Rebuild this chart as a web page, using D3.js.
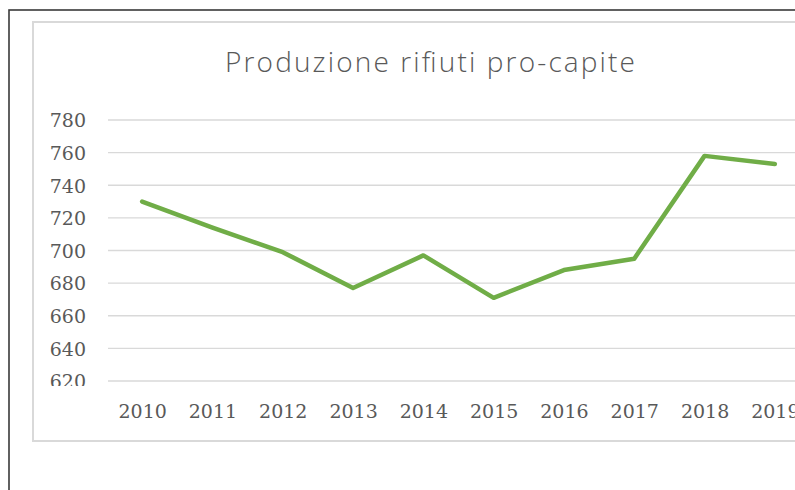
<!DOCTYPE html>
<html>
<head>
<meta charset="utf-8">
<script src="https://cdn.jsdelivr.net/npm/d3@7"></script>
<style>
  html, body { margin: 0; padding: 0; background: #fff; }
  svg { display: block; }
</style>
</head>
<body>
<svg id="chart" width="795" height="490"></svg>
<script>
// Per-capita waste production by year
const years = ["2010", "2011", "2012", "2013", "2014", "2015", "2016", "2017", "2018", "2019"];
const values = [730, 714, 699, 677, 697, 671, 688, 695, 758, 753];
const yTicks = [620, 640, 660, 680, 700, 720, 740, 760, 780];
const title = "Produzione rifiuti pro-capite";

const svg = d3.select("#chart");
const W = 795, H = 490;

// outer dark border (only top and left fall inside the view)
svg.append("rect")
  .attr("x", 9).attr("y", 10)
  .attr("width", W + 20).attr("height", H + 20)
  .attr("fill", "none").attr("stroke", "#3a3a3a").attr("stroke-width", 1.6);

// chart area frame
svg.append("rect")
  .attr("x", 33).attr("y", 22)
  .attr("width", W + 20).attr("height", 419)
  .attr("fill", "#fff").attr("stroke", "#d9d9d9").attr("stroke-width", 2);

const x = d3.scalePoint().domain(years).range([107, 810]).padding(0.5);
const y = d3.scaleLinear().domain([620, 780]).range([381, 120]);

// title
svg.append("text")
  .attr("x", 430).attr("y", 72)
  .attr("text-anchor", "middle")
  .attr("font-family", "'Open Sans', 'Noto Sans', sans-serif")
  .attr("font-weight", 300)
  .attr("font-size", 28)
  .attr("textLength", 410)
  .attr("lengthAdjust", "spacing")
  .attr("fill", "#595959")
  .text(title);

// horizontal gridlines
svg.append("g")
  .selectAll("line")
  .data(yTicks)
  .join("line")
  .attr("x1", 108).attr("x2", 815)
  .attr("y1", d => y(d)).attr("y2", d => y(d))
  .attr("stroke", "#d9d9d9").attr("stroke-width", 1.3);

// y-axis labels; the lowest one is cut by the plot bottom
svg.append("clipPath").attr("id", "ylab-clip")
  .append("rect").attr("x", 0).attr("y", 100).attr("width", 100).attr("height", 286);

const yAxis = d3.axisLeft(y).tickValues(yTicks).tickSize(0).tickPadding(0);
const gyWrap = svg.append("g").attr("clip-path", "url(#ylab-clip)");
const gy = gyWrap.append("g")
  .attr("transform", "translate(86,0)")
  .call(yAxis);
gy.select(".domain").remove();
gy.selectAll("text")
  .attr("font-family", "'DejaVu Serif', serif")
  .attr("font-size", 19)
  .attr("fill", "#595959")
  .attr("dy", "0.36em");

// x-axis labels
const xAxis = d3.axisBottom(x).tickSize(0).tickPadding(0);
const gx = svg.append("g")
  .attr("transform", "translate(0,404)")
  .call(xAxis);
gx.select(".domain").remove();
gx.selectAll("text")
  .attr("font-family", "'DejaVu Serif', serif")
  .attr("font-size", 19)
  .attr("fill", "#595959")
  .attr("dy", "0.72em");

// data line
const line = d3.line()
  .x((d, i) => x(years[i]))
  .y(d => y(d));

svg.append("path")
  .datum(values)
  .attr("d", line)
  .attr("fill", "none")
  .attr("stroke", "#70ad47")
  .attr("stroke-width", 4.5)
  .attr("stroke-linejoin", "round")
  .attr("stroke-linecap", "round");
</script>
</body>
</html>
